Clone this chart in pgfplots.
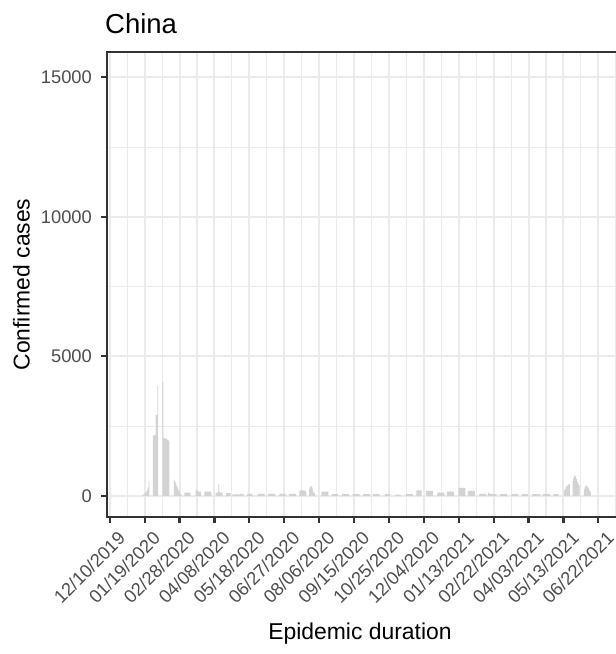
\documentclass[border=0pt]{standalone}
\usepackage{pgfplots}
\pgfplotsset{compat=1.18}
\usepackage{fontspec}
\setmainfont{Liberation Sans}
\definecolor{gridc}{HTML}{EBEBEB}
\definecolor{borderc}{HTML}{333333}
\definecolor{tickc}{HTML}{4D4D4D}
\definecolor{barc}{HTML}{D3D3D3}
\begin{document}
\begin{tikzpicture}[x=1pt,y=1pt]
\useasboundingbox (0,0) rectangle (616,654);
\clip (0,0) rectangle (616,654);
\begin{axis}[
  at={(107pt,137pt)}, anchor=south west,
  scale only axis, width=516pt, height=465pt,
  xmin=-3.1, xmax=588.3, ymin=-757.6, ymax=15909.6,
  scaled ticks=false,
  xtick={0,40,...,560},
  xticklabels={12/10/2019,01/19/2020,02/28/2020,04/08/2020,05/18/2020,06/27/2020,08/06/2020,09/15/2020,10/25/2020,12/04/2020,01/13/2021,02/22/2021,04/03/2021,05/13/2021,06/22/2021},
  minor xtick={20,60,...,580},
  ytick={0,5000,10000,15000},
  yticklabels={0,5000,10000,15000},
  minor ytick={2500,7500,12500},
  grid=both,
  major grid style={gridc, line width=2pt},
  minor grid style={gridc, line width=1.1pt},
  axis line style={borderc, line width=2.2pt},
  major tick style={borderc, line width=2.2pt},
  major tick length=5.7pt, minor tick length=0pt,
  tick align=outside, xtick pos=bottom, ytick pos=left,
  xticklabel style={rotate=45, anchor=north east, inner sep=0pt, text=tickc, font=\fontsize{18.3}{20}\selectfont, yshift=-10.3pt},
  yticklabel style={anchor=east, inner sep=0pt, text=tickc, font=\fontsize{18.3}{20}\selectfont, xshift=-9.3pt},
  ybar, bar width=1,
]
\addplot[fill=barc, draw=none] coordinates {
(38,30)(39,50)(40,80)(41,100)(42,150)(43,200)(44,300)(45,510)
(50,2150)(51,2180)(52,2180)(53,2900)(54,2900)(55,3940)
(61,4090)(62,2080)(63,2060)(64,2050)(65,2040)(66,2020)(67,2000)(68,1950)
(74,570)(75,520)(76,450)(77,350)(78,290)(79,200)(80,150)(81,60)(82,50)
(86,120)(87,120)(88,120)(89,120)(90,120)(91,120)(92,120)
(99,210)(100,210)(101,150)(102,150)(103,150)(104,150)
(109,150)(110,150)(111,150)(112,150)(113,150)(114,150)(115,150)(116,150)
(122,120)(123,120)(124,120)(125,420)(126,150)(127,120)(128,120)(129,120)
(134,95)(135,95)(136,95)(137,95)(138,95)
(141,50)(142,50)(143,50)(144,50)(145,50)(146,50)(147,50)(148,50)(149,50)
(150,70)(151,70)(152,70)(153,70)
(158,70)(159,70)(160,70)(161,70)(162,70)(163,70)
(170,70)(171,70)(172,70)(173,70)(174,70)(175,70)(176,70)(177,70)
(182,70)(183,70)(184,70)(185,70)(186,70)(187,70)(188,70)(189,70)
(195,70)(196,70)(197,70)(198,70)(199,70)(200,70)(201,70)
(206,70)(207,70)(208,70)(209,70)(210,70)(211,70)(212,70)(213,70)
(218,180)(219,200)(220,210)(221,200)(222,190)(223,200)(224,180)(225,160)
(229,250)(230,330)(231,360)(232,300)(233,200)(234,120)(235,100)
(243,150)(244,150)(245,150)(246,150)(247,150)(248,150)(249,150)(250,150)
(255,60)(256,60)(257,60)(258,60)(259,60)(260,60)(261,60)
(267,60)(268,60)(269,60)(270,60)(271,60)(272,60)(273,60)(274,60)
(279,60)(280,60)(281,60)(282,60)(283,60)(284,60)(285,60)(286,60)
(291,60)(292,60)(293,60)(294,60)(295,60)(296,60)(297,60)(298,60)
(302,60)(303,60)(304,60)(305,60)(306,60)(307,60)(308,60)(309,60)
(316,60)(317,60)(318,60)(319,60)(320,60)(321,60)
(328,40)(329,40)(330,40)(331,40)(332,40)(333,40)
(340,60)(341,60)(342,60)(343,60)(344,60)(345,60)(346,60)(347,60)
(352,200)(353,200)(354,200)(355,200)(356,200)(357,200)
(363,180)(364,180)(365,180)(366,180)(367,180)(368,180)(369,180)(370,180)
(376,120)(377,120)(378,120)(379,120)(380,120)(381,120)(382,120)(383,120)
(387,150)(388,150)(389,150)(390,150)(391,150)(392,150)(393,150)(394,150)
(400,290)(401,290)(402,290)(403,290)(404,290)(405,290)(406,290)(407,290)
(411,180)(412,180)(413,180)(414,180)(415,180)(416,180)(417,180)(418,180)
(424,70)(425,70)(426,70)(427,70)(428,70)(429,70)(430,70)(431,70)
(434,110)(435,110)(436,60)(437,60)(438,60)(439,60)(440,60)(441,60)(442,60)(443,60)
(448,60)(449,60)(450,60)(451,60)(452,60)(453,60)(454,60)(455,60)
(461,60)(462,60)(463,60)(464,60)(465,60)(466,60)(467,60)(468,60)
(473,60)(474,60)(475,60)(476,60)(477,60)(478,60)(479,60)
(485,60)(486,60)(487,60)(488,60)(489,60)(490,60)(491,60)(492,60)(493,60)
(497,60)(498,60)(499,60)(500,60)(501,60)(502,60)(503,60)(504,60)
(509,60)(510,60)(511,60)(512,60)(513,60)(514,60)
(521,200)(522,250)(523,300)(524,350)(525,380)(526,400)(527,420)
(531,550)(532,650)(533,740)(534,700)(535,600)(536,500)(537,420)(538,380)
(544,250)(545,320)(546,380)(547,350)(548,300)(549,260)(550,200)(551,150)
};
\end{axis}
\node[anchor=base west, inner sep=0pt, font=\fontsize{27.5}{30}\selectfont] at (105,620.7) {China};
\node[anchor=base, rotate=90, inner sep=0pt, font=\fontsize{22.9}{25}\selectfont] at (29.5,369.5) {Confirmed cases};
\node[anchor=base, inner sep=0pt, font=\fontsize{22.9}{25}\selectfont] at (360,14) {Epidemic duration};
\end{tikzpicture}
\end{document}
